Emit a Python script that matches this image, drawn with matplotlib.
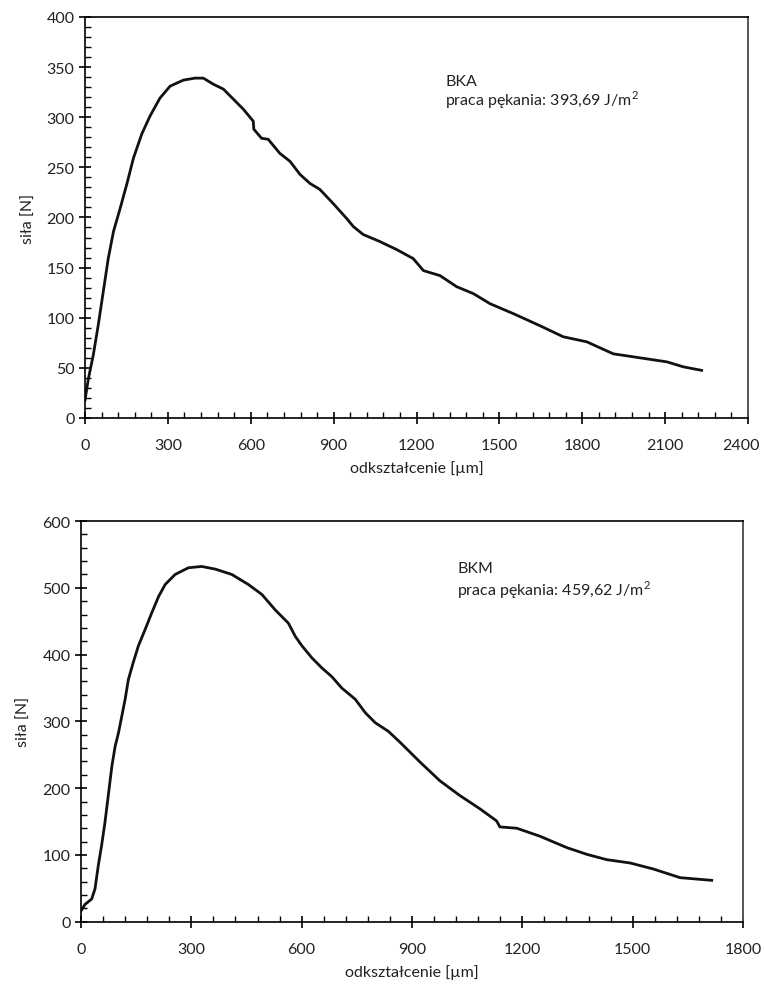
import matplotlib
matplotlib.use('Agg')
import matplotlib.pyplot as plt
from matplotlib.ticker import MultipleLocator
from matplotlib.transforms import ScaledTranslation

plt.rcParams['font.family'] = ['Lato', 'DejaVu Sans']
plt.rcParams['font.size'] = 11.5
plt.rcParams['mathtext.fontset'] = 'custom'
plt.rcParams['mathtext.rm'] = 'Lato'

# BKA - top chart
bka_x = [0, 12, 30, 48, 66, 84, 103, 127, 151, 175, 205, 235, 271, 308, 356, 398, 428,
         464, 501, 537, 573, 609, 611, 639, 663, 705, 742, 778, 814, 850, 898, 947, 971,
         1007, 1067, 1128, 1188, 1225, 1285, 1345, 1406, 1466, 1551, 1647, 1731, 1816,
         1912, 2009, 2106, 2166, 2232]
bka_y = [18, 39, 63, 93, 126, 159, 186, 209, 233, 259, 283, 301, 319, 331, 337, 339, 339,
         333, 328, 318, 308, 296, 288, 279, 278, 264, 256, 243, 234, 228, 214, 199, 191,
         183, 176, 168, 159, 147, 142, 131, 124, 114, 104, 92, 81, 76,
         64, 60, 56, 51, 47.5]

# BKM - bottom chart
bkm_x = [0, 11, 29, 38, 47, 56, 65, 74, 84, 93, 102, 111, 120, 129, 142, 156, 174, 192,
         211, 229, 256, 292, 328, 365, 410, 455, 492, 528, 564, 583, 601, 628, 655, 682,
         709, 746, 773, 800, 836, 867, 922, 976, 1030, 1085, 1130, 1139, 1185, 1248,
         1321, 1375, 1429, 1493, 1556, 1629, 1715]
bkm_y = [16, 26, 34, 49, 84, 114, 148, 188, 233, 263, 283, 308, 333, 363, 388, 413, 437,
         462, 487, 505, 520, 530, 532, 528, 520, 505, 490, 467, 447, 427, 413, 395, 380,
         367, 350, 333, 313, 298, 285, 269, 239, 211, 189, 169, 151, 142, 140, 128,
         111, 101, 93, 88, 79, 66, 62]

xlabel = 'odkształcenie [µm]'
ylabel = 'siła [N]'

fig = plt.figure(figsize=(7.64, 9.87), dpi=100)
ax1 = fig.add_axes([0.1113, 0.5755, 0.8678, 0.4063])
ax2 = fig.add_axes([0.1060, 0.0651, 0.8665, 0.4060])

txt = '#222222'


def style(ax, xmax, xminor, ymax, ymajor, yminor):
    ax.set_xlim(0, xmax)
    ax.set_ylim(0, ymax)
    ax.xaxis.set_major_locator(MultipleLocator(300))
    ax.xaxis.set_minor_locator(MultipleLocator(xminor))
    ax.yaxis.set_major_locator(MultipleLocator(ymajor))
    ax.yaxis.set_minor_locator(MultipleLocator(yminor))
    ax.tick_params(which='major', direction='inout', length=9, width=1.2,
                   colors='black', labelcolor=txt, labelsize=11.5)
    ax.tick_params(axis='x', which='major', pad=10)
    ax.tick_params(axis='y', which='major', pad=3)
    ax.tick_params(which='minor', direction='in', length=4.5, width=1.0, colors='black')
    for s in ['left', 'bottom', 'top']:
        ax.spines[s].set_linewidth(1.2)
        ax.spines[s].set_color('black')
    ax.spines['right'].set_color('#555555')
    ax.spines['right'].set_linewidth(1.4)
    ax.set_xlabel(xlabel, color=txt, fontsize=11.5, labelpad=6)
    ax.set_ylabel(ylabel, color=txt, fontsize=11.5, labelpad=8)


ax1.plot(bka_x, bka_y, color='#111111', linewidth=2.0)
style(ax1, 2400, 60, 400, 50, 10)
ax1.text(0.543, 0.840, 'BKA', transform=ax1.transAxes, va='center', ha='left', color=txt)
ax1.text(0.543, 0.795, 'praca pękania: 393,69 J/m$^2$', transform=ax1.transAxes,
         va='center', ha='left', color=txt)

ax2.plot(bkm_x, bkm_y, color='#111111', linewidth=2.0)
style(ax2, 1800, 60, 600, 100, 20)
ax2.text(0.568, 0.883, 'BKM', transform=ax2.transAxes, va='center', ha='left', color=txt)
ax2.text(0.568, 0.830, 'praca pękania: 459,62 J/m$^2$', transform=ax2.transAxes,
         va='center', ha='left', color=txt)

# nudge the 2400 label a bit left so it stays inside the figure
fig.canvas.draw()
for lab in ax1.get_xticklabels():
    if lab.get_text() == '2400':
        lab.set_transform(lab.get_transform()
                          + ScaledTranslation(-5 / 72, 0, fig.dpi_scale_trans))

fig.savefig('out.png', dpi=100)
